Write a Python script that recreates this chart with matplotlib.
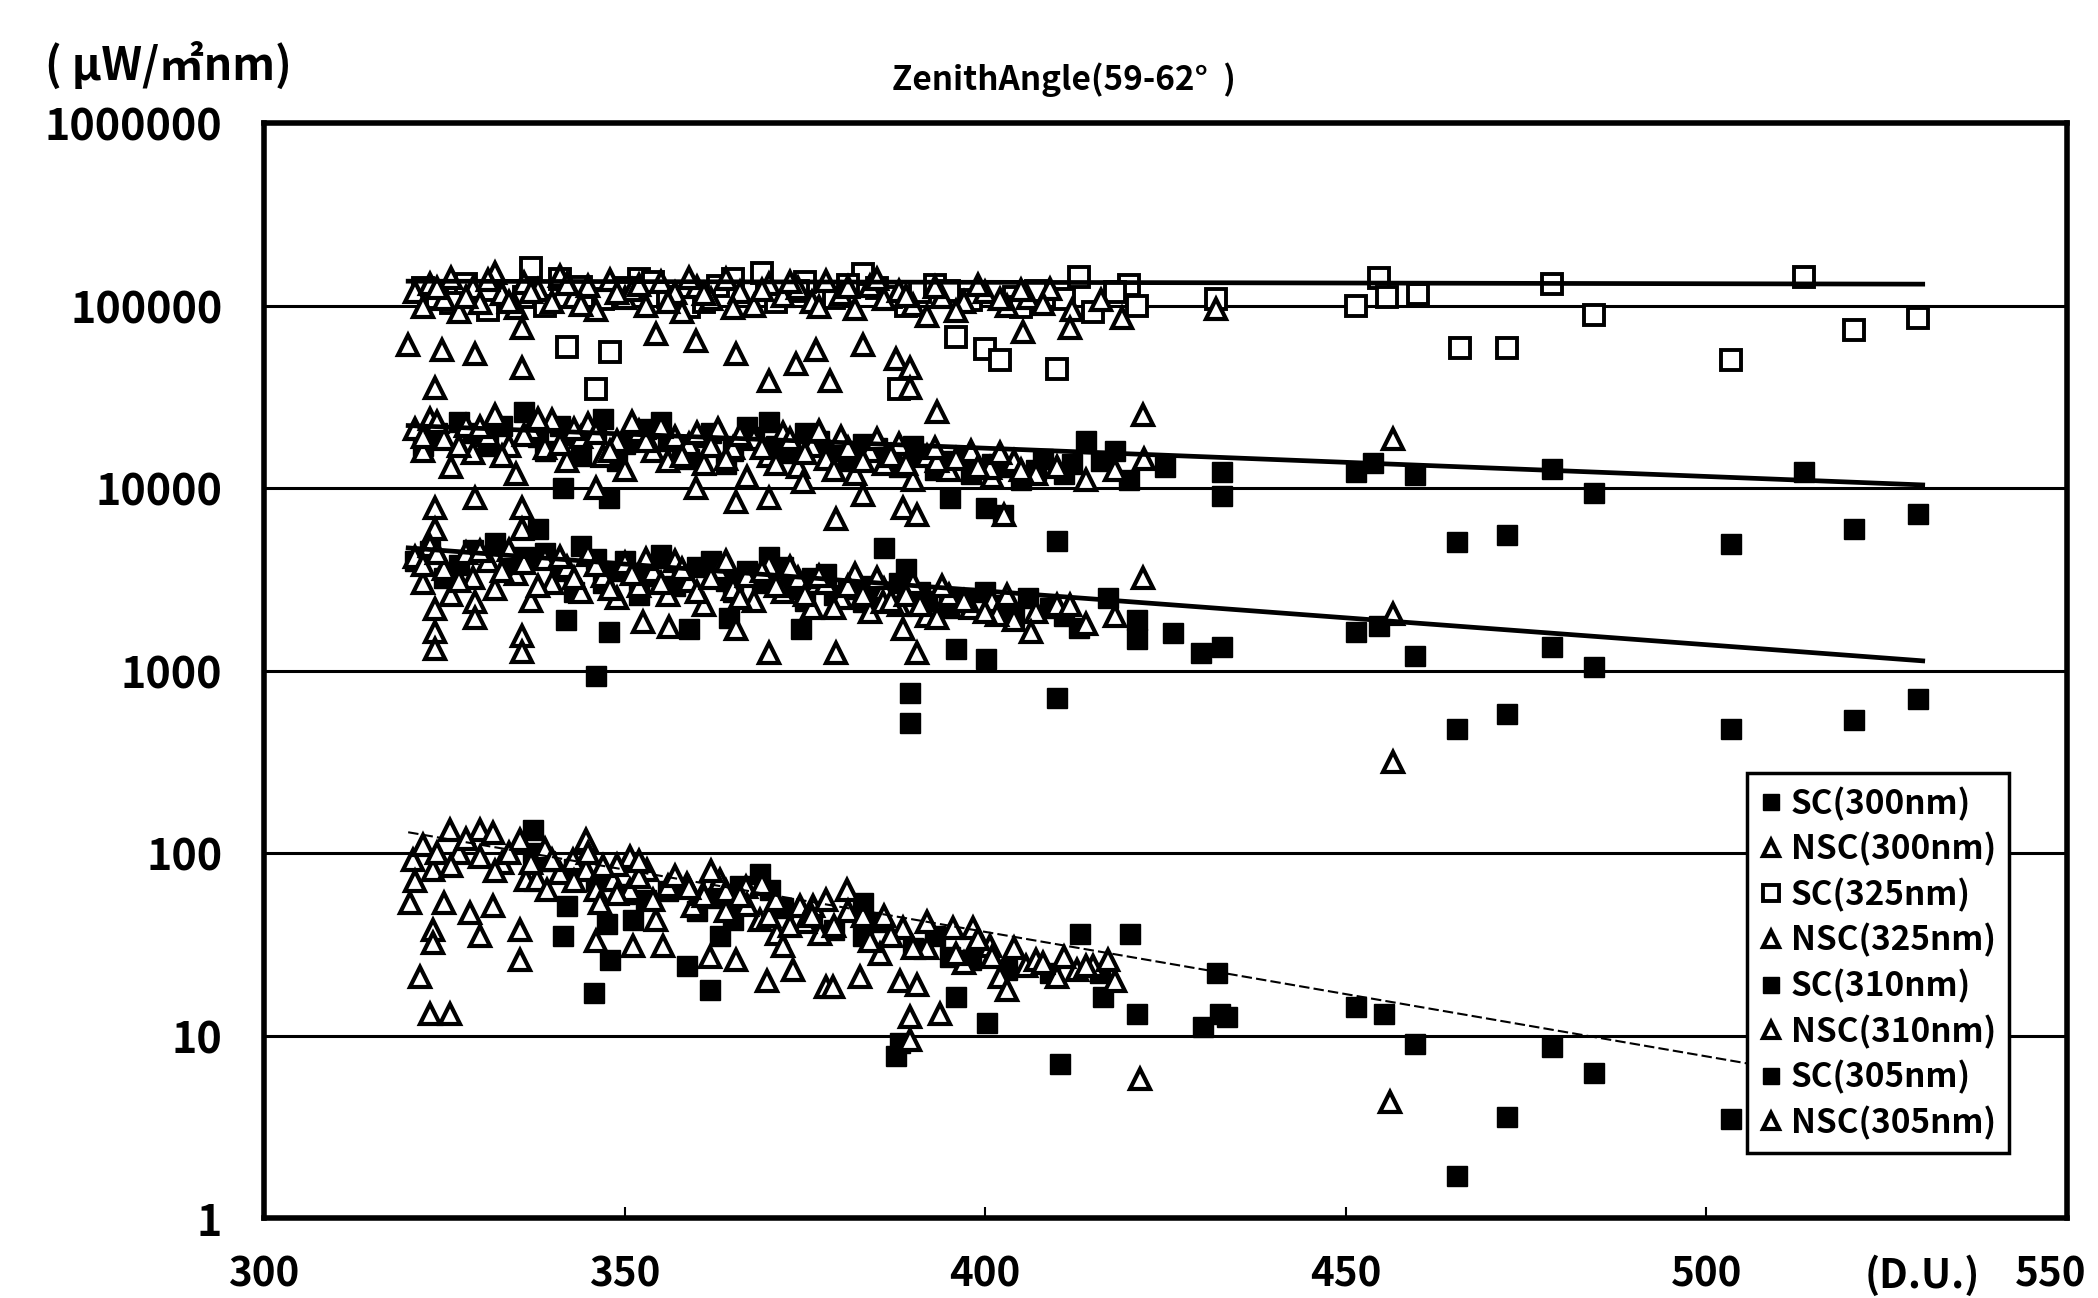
import matplotlib.pyplot as plt
from matplotlib.transforms import ScaledTranslation

plt.rcParams['font.family'] = ['Noto Sans CJK JP', 'DejaVu Sans']

# ---- 300nm ----
sc300_x = [337.3, 337.3, 341.5, 342.0, 345.7, 347.5, 348.0, 351.2, 358.6, 361.8, 363.2, 365.1,
           368.8, 370.2, 383.1, 383.1, 387.7, 388.2, 395.1, 396.0, 400.2, 403.0, 409.0, 410.4,
           413.1, 415.9, 416.4, 420.1, 421.0, 430.2, 432.1, 432.5, 433.6, 451.4, 455.3, 459.6,
           465.4, 472.4, 478.6, 484.4, 503.4,
           339, 343, 346, 350, 353, 356, 360, 363, 366, 372, 376, 379, 385, 390, 393, 398]
sc300_y = [134, 100, 35, 51, 17, 41, 26, 43, 24, 17.8, 35, 43,
           77, 63, 53, 35, 7.7, 9.1, 27, 16.3, 11.7, 23, 22, 7.0,
           36, 22, 16.3, 36, 13.2, 11.2, 22, 13.2, 12.7, 14.3, 13.2, 9.0,
           1.7, 3.6, 8.7, 6.2, 3.5,
           90, 82, 70, 60, 55, 62, 48, 57, 66, 50, 44, 38, 42, 30, 35, 26]

nsc300_x = [320.2, 320.7, 321.6, 323.0, 323.5, 323.5, 323.5, 324.9, 325.8, 325.8, 328.6, 329.9,
            330.0, 331.8, 331.8, 335.5, 335.5, 335.5, 336.4, 337.8, 339.2, 342.9, 344.7, 344.7,
            346.1, 346.6, 346.1, 348.4, 350.7, 350.7, 351.2, 353.1, 354.4, 355.4, 358.6, 359.5,
            360.9, 361.8, 363.2, 365.1, 365.5, 366.9, 368.8, 369.7, 371.1, 372.0, 373.4, 374.3,
            376.2, 377.1, 378.0, 378.9, 380.8, 382.6, 385.4, 388.2, 388.6, 389.6, 389.6, 390.5,
            393.7, 395.6, 398.3, 400.7, 402.0, 403.0, 405.7, 412.7, 415.0, 421.5, 456.1,
            322.0, 327.0, 333.0, 339.0, 341.0, 349.0, 352.0, 356.0, 361.0, 364.0, 367.0, 370.0,
            375.0, 379.0, 384.0, 386.0, 392.0, 397.0, 407.0, 410.0, 418.0,
            321, 324, 326, 328, 330, 332, 334, 337, 340, 343, 345, 347, 349, 352, 354, 357,
            359, 362, 364, 366, 369, 371, 373, 376, 378, 381, 383, 387, 390, 392, 396, 399,
            401, 404, 408, 411, 414, 417]
nsc300_y = [53, 92, 21, 13.2, 81, 38, 32, 53, 134, 13.2, 47, 134,
            35, 128, 51, 118, 38, 26, 71, 71, 63, 92, 118, 81,
            63, 53, 33, 71, 95, 63, 31, 81, 43, 31, 68, 51,
            60, 27, 71, 55, 26, 65, 43, 20, 36, 31, 23, 51,
            51, 36, 18.5, 18.5, 63, 21, 28, 20, 39, 12.7, 9.4, 19,
            13.2, 39, 39, 31, 21, 17.8, 24, 23, 24, 5.8, 4.3,
            110, 100, 88, 105, 78, 86, 74, 66, 58, 48, 52, 45,
            42, 40, 33, 45, 30, 25, 26, 21, 20,
            70, 100, 85, 120, 95, 80, 100, 88, 92, 70, 100, 85, 60, 90, 55, 75,
            64, 80, 62, 58, 68, 55, 40, 45, 55, 48, 45, 35, 30, 42, 28, 34,
            27, 30, 25, 27, 24, 26]

# ---- 325nm ----
sc325_x = [324, 328, 331, 334, 337, 339, 342, 344, 347, 348, 346, 352, 356, 359, 363, 367,
           369, 371, 375, 379, 383, 385, 388, 389, 391, 393, 396, 398, 400, 402, 404, 407,
           410, 413, 415, 420, 421, 432,
           451.4, 454.6, 455.7, 460.0, 465.8, 472.4, 478.6, 484.4, 503.4, 513.5, 520.5, 529.4,
           322, 326, 336, 341, 350, 354, 361, 365, 374, 381, 387, 395, 405, 411, 418]
sc325_y = [110000, 132000, 95000, 120000, 160000, 100000, 59000, 126000, 108000, 56000, 35000,
           140000, 112000, 98000, 128000, 118000, 150000, 104000, 135000, 110000, 148000, 125000,
           35000, 100000, 118000, 130000, 67000, 107000, 58000, 50000, 112000, 120000, 45000,
           143000, 92000, 130000, 100000, 108000,
           100000, 141000, 112000, 116000, 58600, 58600, 131000, 89100, 50300, 143000, 73700, 85900,
           125000, 103000, 112000, 140000, 125000, 135000, 105000, 140000, 120000, 130000, 112000,
           120000, 98000, 108000, 118000]

nsc325_x = [321, 322, 323, 325, 326, 327, 329, 330, 332, 333, 335, 336, 338, 340, 341, 343,
            345, 346, 348, 350, 351, 353, 355, 357, 358, 360, 362, 364, 366, 368, 370, 372,
            374, 376, 378, 380, 382, 384, 386, 388, 390, 392, 394, 397, 400, 403, 406, 409,
            412, 416, 419, 432,
            320.0, 324.7, 329.3, 323.7, 335.8, 335.8, 365.5, 370.1, 373.8, 376.6, 378.5, 383.1,
            387.7, 389.6, 389.6, 405.3, 411.8, 359.9, 354.3,
            324, 328, 331, 334, 337, 342, 344, 349, 352, 356, 359, 361, 365, 369, 373, 377,
            381, 385, 389, 393, 396, 399, 402, 405, 408]
nsc325_y = [118000, 98000, 131000, 108000, 142000, 92000, 125000, 103000, 150000, 115000, 97000,
            133000, 121000, 105000, 145000, 112000, 128000, 95000, 138000, 110000, 122000, 100000,
            134000, 117000, 92000, 127000, 108000, 140000, 119000, 99000, 131000, 113000, 124000,
            104000, 137000, 116000, 96000, 128000, 109000, 120000, 101000, 88000, 112000, 105000,
            118000, 99000, 110000, 123000, 94000, 107000, 86000, 96000,
            60800, 56800, 54000, 35400, 45600, 75700, 54000, 38500, 48000, 56800, 38500, 60800,
            51000, 45600, 35400, 71900, 75700, 64000, 69500,
            125000, 112000, 138000, 104000, 118000, 132000, 101000, 117000, 129000, 104000, 142000,
            115000, 97000, 122000, 135000, 98000, 126000, 140000, 113000, 126000, 93000, 130000,
            108000, 121000, 102000]

# ---- 310nm ----
sc310_x = [324, 327, 331, 336, 338, 341, 344, 347, 350, 353, 356, 359, 362, 365, 368, 370,
           373, 377, 381, 385, 388, 391, 394, 398, 401, 405, 408, 411, 414, 418, 420, 425,
           341.4, 347.8, 395.1, 400.1, 402.5, 409.9,
           432.8, 432.8, 451.4, 453.8, 459.6, 465.4, 472.4, 478.6, 484.4, 503.4, 513.5, 520.5, 529.4,
           322, 329, 333, 339, 343, 346, 349, 352, 355, 358, 361, 364, 367, 371, 375, 379,
           383, 387, 390, 393, 397, 403, 407, 412, 416]
sc310_y = [20000, 23000, 17000, 26000, 19000, 22000, 15000, 24000, 17500, 21000, 18000, 14500,
           20000, 16000, 19000, 23000, 15500, 18000, 14000, 16500, 13000, 15000, 14000, 12000,
           13500, 11000, 14500, 12000, 18000, 16000, 11000, 13000,
           10000, 8860, 8860, 7730, 7110, 5150,
           9040, 12200, 12200, 13700, 11800, 5090, 5500, 12700, 9380, 4910, 12200, 5940, 7190,
           17000, 20000, 22000, 16000, 19500, 21000, 14000, 18500, 23000, 16500, 19000, 13500,
           21500, 17000, 20000, 16000, 17500, 15500, 17000, 12500, 15000, 13000, 12500, 13500,
           14000]

nsc310_x = [321, 322, 323, 325, 326, 328, 329, 331, 332, 334, 335, 337, 339, 340, 342, 344,
            345, 347, 349, 350, 352, 354, 356, 357, 359, 361, 363, 365, 367, 368, 370, 372,
            374, 376, 378, 380, 382, 384, 386, 388, 390, 392, 395, 398, 401, 404, 407, 410,
            414, 418, 422,
            323.7, 323.7, 329.3, 335.8, 335.8, 346.0, 359.9, 365.5, 370.1, 374.7, 379.3, 383.1,
            388.6, 390.5, 393.3, 400.7, 402.6, 393.3, 421.9, 456.5,
            322, 324, 327, 330, 333, 336, 338, 341, 343, 346, 348, 351, 353, 355, 358, 360,
            362, 364, 366, 369, 371, 373, 375, 377, 379, 381, 383, 385, 387, 389, 393, 396,
            399, 402, 405]
nsc310_y = [21000, 16000, 24000, 18500, 13000, 22000, 15500, 19500, 25000, 17000, 12000, 21000,
            16500, 23500, 14000, 19000, 22500, 15000, 18000, 12500, 20500, 16000, 14000, 19000,
            17500, 13500, 21000, 16500, 11500, 18500, 15000, 20000, 13000, 17000, 14500, 19000,
            12000, 16000, 13500, 17500, 11000, 15000, 12500, 16000, 11500, 14000, 12000, 13000,
            11000, 12500, 14500,
            7730, 6000, 8860, 7730, 6000, 10000, 10000, 8420, 8860, 10800, 6760, 9120,
            7730, 7110, 14000, 12900, 7110, 26100, 25200, 18600,
            19000, 23000, 17000, 21500, 15000, 19500, 24000, 17500, 21000, 20000, 16000, 23000,
            18000, 21500, 15000, 20000, 17000, 14500, 19500, 16500, 13500, 18500, 15500, 20500,
            12500, 16500, 14000, 18500, 15000, 13500, 16500, 14500, 13000, 15500, 12500]

# ---- 305nm ----
sc305_x = [323, 327, 332, 336, 338, 341, 344, 347, 350, 353, 357, 360, 364, 367, 370, 373,
           376, 379, 383, 386, 389, 392, 395, 400, 404, 409, 413, 417, 421, 426,
           341.9, 346.0, 347.8, 359.0, 364.5, 374.4, 383.1, 395.5, 396.0, 400.1, 410.0, 389.6,
           389.6, 421.1, 430.0, 432.8,
           451.4, 454.6, 459.6, 465.4, 472.4, 478.6, 484.4, 503.4, 520.5, 529.4,
           321, 325, 329, 334, 339, 343, 346, 349, 352, 355, 358, 362, 365, 369, 372, 375,
           378, 381, 385, 388, 391, 397, 402, 406, 411]
sc305_y = [4500, 3800, 5000, 4200, 6000, 3500, 4800, 3000, 4000, 3300, 2900, 3700, 3100, 3500,
           4200, 2800, 3200, 2600, 2900, 4700, 3600, 2400, 2200, 2700, 2000, 2200, 1700, 2500,
           1900, 1600,
           1900, 936, 1630, 1690, 1940, 1690, 2370, 2370, 1310, 1150, 703, 752,
           519, 1480, 1250, 1340,
           1620, 1750, 1200, 479, 580, 1340, 1050, 479, 536, 701,
           4000, 3200, 4600, 3600, 4400, 2700, 4100, 3500, 2600, 4300, 3300, 4000, 2700, 3000,
           3700, 2400, 3400, 2800, 2500, 3000, 2700, 2500, 2300, 2500, 2000]

nsc305_x = [321, 322, 323, 325, 326, 328, 329, 331, 332, 334, 335, 337, 339, 340, 342, 344,
            345, 347, 349, 350, 352, 354, 356, 357, 359, 361, 363, 365, 367, 368, 370, 372,
            374, 376, 378, 380, 382, 384, 386, 388, 390, 392, 395, 398, 401, 404, 407, 410,
            414, 418,
            323.7, 323.7, 323.7, 329.3, 329.3, 335.8, 335.8, 352.5, 356.2, 365.5, 370.1, 379.3,
            385.8, 388.6, 390.5, 393.3, 401.6, 406.3, 411.8, 421.9, 456.5, 456.5,
            322, 324, 327, 330, 333, 336, 338, 341, 343, 346, 348, 351, 353, 355, 358, 360,
            362, 364, 366, 369, 371, 373, 375, 377, 379, 381, 383, 385, 387, 389, 391, 394,
            397, 400, 403]
nsc305_y = [4200, 3000, 4800, 3600, 2600, 4400, 3200, 4000, 2800, 4600, 3400, 2400, 4100, 3000,
            3700, 2700, 4300, 3300, 2500, 3900, 2900, 3500, 2600, 4000, 3100, 2300, 3600, 2800,
            3300, 2400, 3800, 2700, 3200, 2200, 3000, 2500, 3400, 2100, 2800, 2300, 3000, 2000,
            2600, 2200, 2400, 1900, 2100, 2300, 1800, 2000,
            2180, 1630, 1310, 2370, 1940, 1550, 1260, 1840, 1740, 1690, 1250, 1250,
            2370, 1690, 1250, 1940, 2010, 1630, 2280, 3210, 2040, 315,
            3800, 4400, 3100, 4500, 3500, 3900, 2900, 4200, 3200, 3800, 2800, 3400, 4100, 3000,
            3600, 2700, 3200, 4000, 2500, 3500, 2900, 3700, 2600, 3300, 2200, 2900, 2600, 3200,
            2400, 2600, 2300, 2900, 2400, 2100, 2600]

# trend lines (end points)
trend_x = [320, 530]
trend325 = [136000, 131000]
trend310 = [22000, 10400]
trend305 = [4700, 1130]
trend300 = [130, 4.8]

grid_levels = [10, 100, 1000, 10000, 100000]
yticks = [1, 10, 100, 1000, 10000, 100000, 1000000]
ytick_labels = ['1', '10', '100', '1000', '10000', '100000', '1000000']
xticks = [300, 350, 400, 450, 500, 550]

fig = plt.figure(figsize=(20.98, 12.98), dpi=100)
ax = fig.add_axes([0.1258, 0.0616, 0.8594, 0.8436])
ax.set_yscale('log')
ax.set_xlim(300, 550)
ax.set_ylim(1, 1e6)

for g in grid_levels:
    ax.axhline(g, color='black', lw=2.2, zorder=1)

sq = dict(marker='s', linestyle='none', markersize=14.5, markeredgecolor='black', zorder=3)
tri = dict(marker='^', linestyle='none', markersize=14.5, markerfacecolor='white',
           markeredgecolor='black', markeredgewidth=3.0, zorder=3)

ax.plot(sc300_x, sc300_y, color='black', label='SC(300nm)', **sq)
ax.plot(nsc300_x, nsc300_y, label='NSC(300nm)', **tri)
ax.plot(sc325_x, sc325_y, markerfacecolor='white', markeredgewidth=2.8, label='SC(325nm)', **sq)
ax.plot(nsc325_x, nsc325_y, label='NSC(325nm)', **tri)
ax.plot(sc310_x, sc310_y, color='black', label='SC(310nm)', **sq)
ax.plot(nsc310_x, nsc310_y, label='NSC(310nm)', **tri)
ax.plot(sc305_x, sc305_y, color='black', label='SC(305nm)', **sq)
ax.plot(nsc305_x, nsc305_y, label='NSC(305nm)', **tri)

for t in (trend325, trend310, trend305):
    ax.plot(trend_x, t, color='black', lw=3.4, zorder=4)
ax.plot(trend_x, trend300, color='black', lw=1.5, linestyle=(0, (5, 2)), zorder=4)

ax.minorticks_off()
ax.set_yticks(yticks)
ax.set_yticklabels(ytick_labels)
ax.set_xticks(xticks)
ax.set_xticklabels([str(v) for v in xticks])
ax.tick_params(axis='y', length=0, pad=30, labelsize=31)
ax.tick_params(axis='x', direction='in', length=8, width=1.5, pad=26, labelsize=29)
for lab in ax.get_xticklabels() + ax.get_yticklabels():
    lab.set_fontweight('bold')
# keep the last x label inside the figure edge
last = ax.get_xticklabels()[-1]
last.set_transform(last.get_transform() + ScaledTranslation(-16 / 100, 0, fig.dpi_scale_trans))

for s in ax.spines.values():
    s.set_linewidth(4)

ax.text(530, -0.034, '(D.U.)', transform=ax.get_xaxis_transform(), ha='center', va='top',
        fontsize=29, fontweight='bold')

fig.text(1064 / 2098, 1 - 80 / 1298, 'ZenithAngle(59-62°  )', ha='center', va='center',
         fontsize=24, fontweight='bold')
fig.text(45 / 2098, 1 - 66 / 1298, '( μW/㎡nm)', ha='left', va='center',
         fontsize=32, fontweight='bold')

leg = ax.legend(loc='lower right', bbox_to_anchor=(0.968, 0.059), frameon=True, fancybox=False,
                edgecolor='black', framealpha=1, borderaxespad=0, handlelength=0.6,
                handletextpad=0.3, labelspacing=0.34, borderpad=0.4, markerscale=0.8,
                prop={'size': 24, 'weight': 'bold'})
leg.get_frame().set_linewidth(2.5)

fig.savefig('out.png', dpi=100)
